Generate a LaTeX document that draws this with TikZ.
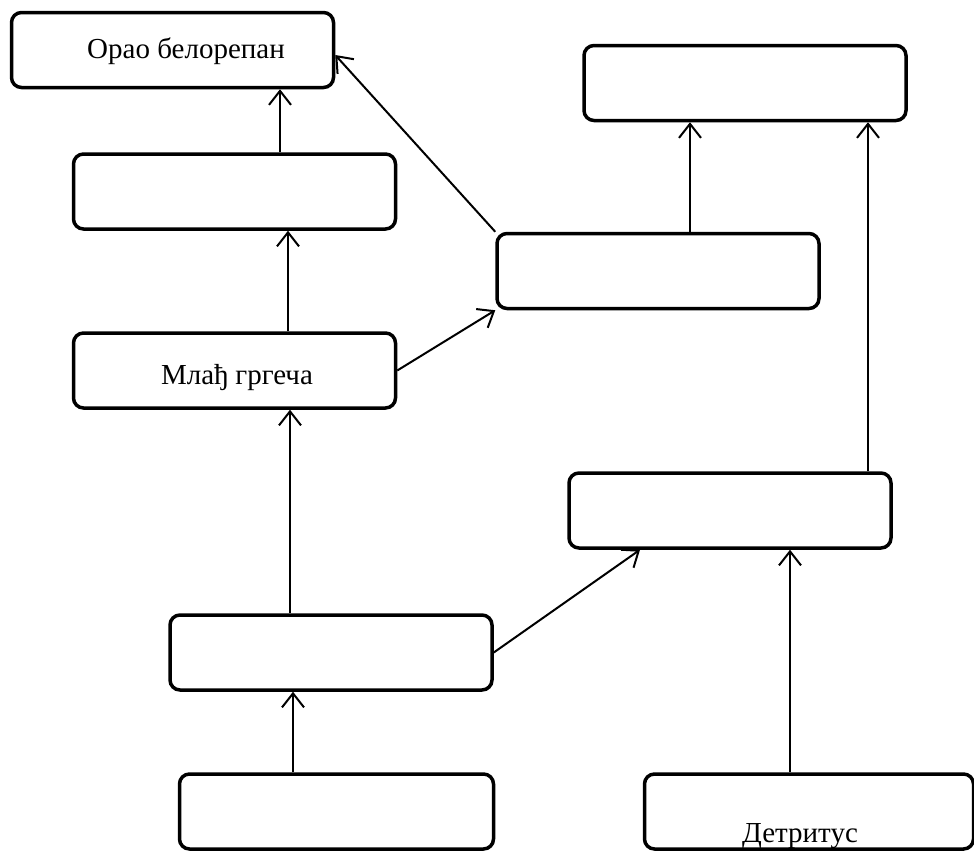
\documentclass[tikz,border=0pt]{standalone}
\usepackage{fontspec}
\setmainfont{Liberation Serif}
\usetikzlibrary{arrows.meta}
\begin{document}
\begin{tikzpicture}[x=1pt,y=-1pt,
  box/.style={draw,line width=3.5pt,rounded corners=10pt,minimum width=322pt,minimum height=75pt,inner sep=0pt},
  lbl/.style={anchor=base,font=\fontsize{29}{34}\selectfont},
  arr/.style={line width=2pt,-{Straight Barb[length=14pt,width=22pt,line width=2pt]}}]
\useasboundingbox (0,0) rectangle (974,854);
\node[box] (b1) at (172.5,50) {};
\node[box] (b2) at (745,83) {};
\node[box] (b3) at (234.5,191.5) {};
\node[box] (b4) at (658,271) {};
\node[box] (b5) at (234.5,370.5) {};
\node[box] (b6) at (730,510.5) {};
\node[box] (b7) at (331,652.5) {};
\node[box,minimum width=314pt] (b8) at (336.5,811.5) {};
\node[box,minimum width=329pt] (b9) at (809,811.5) {};
\node[lbl] (t1) at (186,58) {Орао белорепан};
\node[lbl] (t5) at (237,384) {Млађ гргеча};
\node[lbl] (t9) at (800,842) {Детритус};
\draw[arr] ([xshift=45.5]b3.north) -- ([xshift=107.5]b1.south);
\draw[arr] (b4.north west) -- ([yshift=-5]b1.east);
\draw[arr] ([xshift=32]b4.north) -- ([xshift=-55]b2.south);
\draw[arr] ([xshift=138]b6.north) -- ([xshift=123]b2.south);
\draw[arr] ([xshift=53.5]b5.north) -- ([xshift=53.5]b3.south);
\draw[arr] (b5.east) -- (b4.south west);
\draw[arr] ([xshift=-41]b7.north) -- ([xshift=55.5]b5.south);
\draw[arr] (b7.east) -- ([xshift=-90]b6.south);
\draw[arr] ([xshift=-43.5]b8.north) -- ([xshift=-38]b7.south);
\draw[arr] ([xshift=-19]b9.north) -- ([xshift=60]b6.south);
\end{tikzpicture}
\end{document}
